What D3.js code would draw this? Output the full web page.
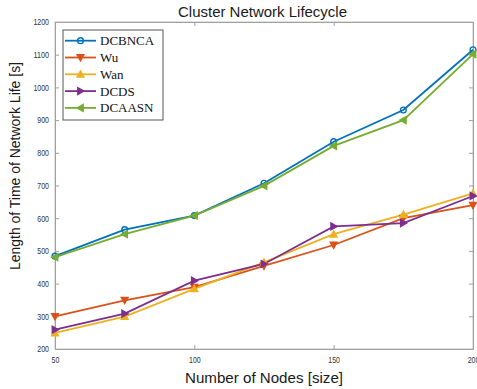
<!DOCTYPE html>
<html><head><meta charset="utf-8">
<script src="https://cdn.jsdelivr.net/npm/d3@7"></script>
<style>body{margin:0;background:#fff;} svg{display:block;}</style>
</head><body>
<svg id="c" width="477" height="389"></svg>
<script>
const nodes = [50, 75, 100, 125, 150, 175, 200];
const dcbnca = [484, 565, 608, 707, 834, 931, 1115];
const wu     = [300, 349, 389, 454, 518, 600, 640];
const wan    = [249, 299, 384, 465, 551, 611, 676];
const dcds   = [259, 308, 409, 460, 575, 585, 668];
const dcaasn = [481, 551, 608, 699, 821, 900, 1102];
const seriesNames = ["DCBNCA", "Wu", "Wan", "DCDS", "DCAASN"];
const xTicks = [50, 100, 150, 200];
const yTicks = [200, 300, 400, 500, 600, 700, 800, 900, 1000, 1100, 1200];

const series = [
  {name: seriesNames[0], values: dcbnca, color: "#0072BD", marker: "circle"},
  {name: seriesNames[1], values: wu, color: "#D95319", marker: "down"},
  {name: seriesNames[2], values: wan, color: "#EDB120", marker: "up"},
  {name: seriesNames[3], values: dcds, color: "#7E2F8E", marker: "right"},
  {name: seriesNames[4], values: dcaasn, color: "#77AC30", marker: "left"}
];

const svg = d3.select("#c");
const L = 55, R = 473, T = 22, B = 349;
const x = d3.scaleLinear().domain([50, 200]).range([L, R]);
const y = d3.scaleLinear().domain([200, 1200]).range([B, T]);
const sans = "Liberation Sans, Arial, Helvetica, sans-serif";

svg.append("rect").attr("x", L).attr("y", T).attr("width", R - L).attr("height", B - T)
  .attr("fill", "none").attr("stroke", "#c4c4c4").attr("stroke-width", 1);

const fmt = d3.format("d");
const xAxis = d3.axisBottom(x).tickValues(xTicks).tickFormat(fmt).tickSizeInner(-4).tickSizeOuter(0).tickPadding(8);
const yAxis = d3.axisLeft(y).tickValues(yTicks).tickFormat(fmt).tickSizeInner(-4).tickSizeOuter(0).tickPadding(6);
const gx = svg.append("g").attr("transform", `translate(0,${B})`).call(xAxis);
const gy = svg.append("g").attr("transform", `translate(${L},0)`).call(yAxis);
const gxt = svg.append("g").attr("transform", `translate(0,${T})`).call(d3.axisTop(x).tickValues(xTicks).tickSizeInner(-4).tickSizeOuter(0).tickFormat(""));
const gyr = svg.append("g").attr("transform", `translate(${R},0)`).call(d3.axisRight(y).tickValues(yTicks).tickSizeInner(-4).tickSizeOuter(0).tickFormat(""));
[gx, gy, gxt, gyr].forEach(a => {
  a.select(".domain").attr("stroke", "#a0a0a0");
  a.selectAll(".tick line").attr("stroke", "#a0a0a0");
  a.selectAll(".tick text").attr("fill", "#333").style("font-family", sans).style("font-size", "9px")
    .attr("textLength", d => String(d).length * 3.9).attr("lengthAdjust", "spacingAndGlyphs");
});

function markerPath(type, h) {
  if (type === "circle") return d3.symbol(d3.symbolCircle, 26)();
  if (type === "down") return `M${-h},${-h*0.8}L${h},${-h*0.8}L0,${h}Z`;
  if (type === "up") return `M${-h},${h*0.8}L${h},${h*0.8}L0,${-h}Z`;
  if (type === "right") return `M${-h*0.8},${-h}L${-h*0.8},${h}L${h},0Z`;
  if (type === "left") return `M${h*0.8},${-h}L${h*0.8},${h}L${-h},0Z`;
}

const line = d3.line().x((d, i) => x(nodes[i])).y(d => y(d));
const plot = svg.append("g");
series.forEach(s => {
  plot.append("path").datum(s.values).attr("d", line)
    .attr("fill", "none").attr("stroke", s.color).attr("stroke-width", 1.8);
});
series.forEach(s => {
  plot.selectAll(null).data(s.values).enter().append("path")
    .attr("transform", (d, i) => `translate(${x(nodes[i])},${y(d)})`)
    .attr("d", markerPath(s.marker, 3.4))
    .attr("fill", s.marker === "circle" ? "none" : s.color)
    .attr("stroke", s.color).attr("stroke-width", 1.4);
});

svg.append("text").attr("x", 262.5).attr("y", 17).attr("text-anchor", "middle")
  .style("font-family", sans).style("font-size", "14px").attr("fill", "#1a1a1a")
  .attr("textLength", 169).attr("lengthAdjust", "spacingAndGlyphs")
  .text("Cluster Network Lifecycle");
svg.append("text").attr("x", 264).attr("y", 383).attr("text-anchor", "middle")
  .style("font-family", sans).style("font-size", "15px").attr("fill", "#1a1a1a")
  .attr("textLength", 158).attr("lengthAdjust", "spacingAndGlyphs")
  .text("Number of Nodes [size]");
svg.append("text").attr("transform", "translate(20,166) rotate(-90)").attr("text-anchor", "middle")
  .style("font-family", sans).style("font-size", "14px").attr("fill", "#1a1a1a")
  .attr("textLength", 208).attr("lengthAdjust", "spacingAndGlyphs")
  .text("Length of Time of Network Life [s]");

const lg = svg.append("g").attr("transform", "translate(63,30)");
lg.append("rect").attr("x", 0).attr("y", 0).attr("width", 100).attr("height", 90)
  .attr("fill", "#fff").attr("stroke", "#555").attr("stroke-width", 1);
series.forEach((s, i) => {
  const yy = 10.7 + i * 16.8;
  lg.append("line").attr("x1", 2).attr("x2", 33).attr("y1", yy).attr("y2", yy)
    .attr("stroke", s.color).attr("stroke-width", 1.8);
  lg.append("path").attr("transform", `translate(17.5,${yy})`).attr("d", markerPath(s.marker, 3.4))
    .attr("fill", s.marker === "circle" ? "none" : s.color).attr("stroke", s.color).attr("stroke-width", 1.4);
  lg.append("text").attr("x", 37).attr("y", yy + 4.5)
    .style("font-family", "Liberation Serif, DejaVu Serif, serif").style("font-size", "13px").attr("fill", "#111")
    .text(s.name);
});
</script>
</body></html>
